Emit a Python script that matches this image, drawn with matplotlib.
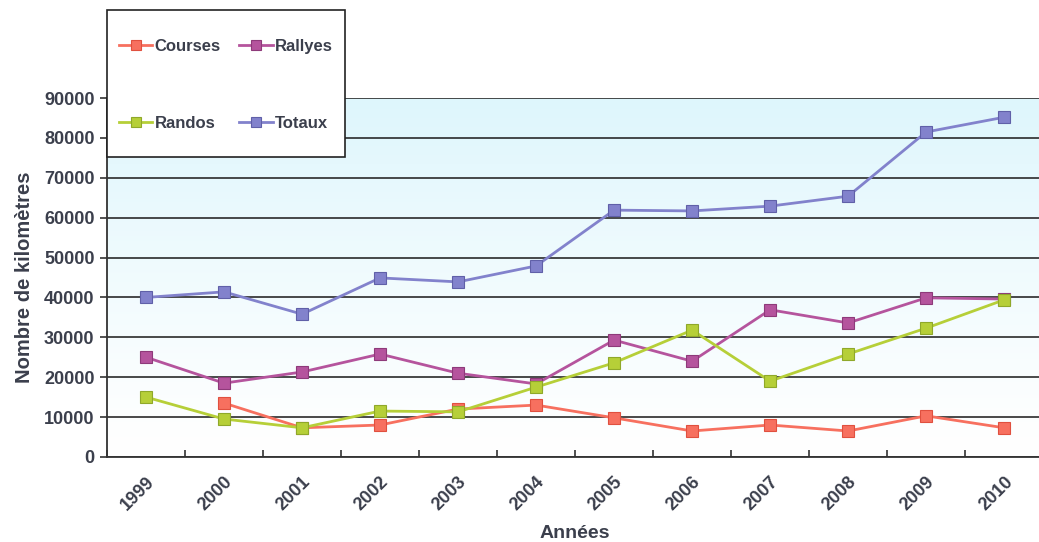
import matplotlib.pyplot as plt
import numpy as np
from matplotlib.patches import Rectangle

years = ['1999', '2000', '2001', '2002', '2003', '2004', '2005', '2006', '2007', '2008', '2009', '2010']
courses = [np.nan, 13500, 7300, 8000, 12000, 13000, 9800, 6500, 8000, 6500, 10300, 7300]
rallyes = [25000, 18500, 21300, 25800, 21000, 18300, 29300, 24000, 36900, 33600, 39900, 39600]
randos = [15000, 9500, 7300, 11500, 11300, 17500, 23600, 31800, 19000, 25800, 32300, 39400]
totaux = [40000, 41400, 35800, 44900, 43900, 47900, 61900, 61700, 62900, 65400, 81500, 85200]

txt = '#3b3f4c'
plt.rcParams['font.family'] = ['Liberation Sans', 'DejaVu Sans']
plt.rcParams['font.weight'] = 'bold'

fig = plt.figure(figsize=(10.39, 5.42), dpi=100)
ax = fig.add_axes([0.103, 0.157, 0.901, 0.662])

# gradient background light blue -> white
grad = np.linspace(0, 1, 256).reshape(-1, 1) ** 1.2
top = np.array([0.87, 0.965, 0.99])
bot = np.array([1.0, 1.0, 1.0])
img = bot + (top - bot) * grad[:, :, None] * np.ones((1, 1, 3))
img = np.clip(img, 0, 1)
ax.imshow(img, extent=[-0.5, 11.5, 0, 90000], origin='lower', aspect='auto', zorder=0)

x = np.arange(len(years))
series = [
    ('Courses', courses, '#f7705f', '#e0503f'),
    ('Rallyes', rallyes, '#b5549d', '#8e3a7a'),
    ('Randos', randos, '#b6cf38', '#8fa82a'),
    ('Totaux', totaux, '#8282cc', '#6060a8'),
]
lines = {}
for name, vals, c, ec in series:
    l, = ax.plot(x, vals, color=c, lw=2, marker='s', ms=8, mfc=c, mec=ec, mew=0.8, label=name, zorder=3)
    lines[name] = l

ax.set_xlim(-0.5, 11.5)
ax.set_ylim(0, 90000)
ax.set_yticks(np.arange(0, 90001, 10000))
ax.set_yticklabels([str(v) for v in range(0, 90001, 10000)], fontsize=13, color=txt, fontweight='bold')
ax.set_xticks(np.arange(-0.5, 11.6, 1))
ax.set_xticklabels([])
ax.set_xticks(x, minor=True)
ax.set_xticklabels(years, minor=True, rotation=45, ha='right', va='top', rotation_mode='anchor',
                   fontsize=13, color=txt, fontweight='bold')
ax.tick_params(axis='x', which='minor', length=0, pad=12)
ax.tick_params(axis='x', which='major', length=5, direction='in', color='#333333', width=1.2)
ax.tick_params(axis='y', length=5, direction='out', color='#333333', width=1.2, pad=4)
ax.grid(axis='y', color='#2a2a2a', lw=1.2, zorder=1)
ax.set_axisbelow(True)
for s in ['top', 'right']:
    ax.spines[s].set_visible(False)
for s in ['left', 'bottom']:
    ax.spines[s].set_color('#333333')
    ax.spines[s].set_linewidth(1.3)

ax.set_ylabel('Nombre de kilomètres', fontsize=14.5, color=txt, fontweight='bold', labelpad=7)
ax.set_xlabel('Années', fontsize=14, color=txt, fontweight='bold', labelpad=8)

# legend box
fig.patches.append(Rectangle((0.103, 0.710), 0.229, 0.271, transform=fig.transFigure,
                             facecolor='white', edgecolor='#222222', lw=1.2, zorder=5))
order = ['Courses', 'Randos', 'Rallyes', 'Totaux']
leg = fig.legend(handles=[lines[k] for k in order], labels=order, ncol=2,
                 loc='center', bbox_to_anchor=(0.2175, 0.843), frameon=False,
                 labelspacing=3.7, handlelength=2.0, handletextpad=0.15, columnspacing=1.1,
                 prop={'size': 12, 'weight': 'bold'}, markerscale=0.95)
for t in leg.get_texts():
    t.set_color(txt)
leg.set_zorder(6)

fig.savefig('out.png', dpi=100)
